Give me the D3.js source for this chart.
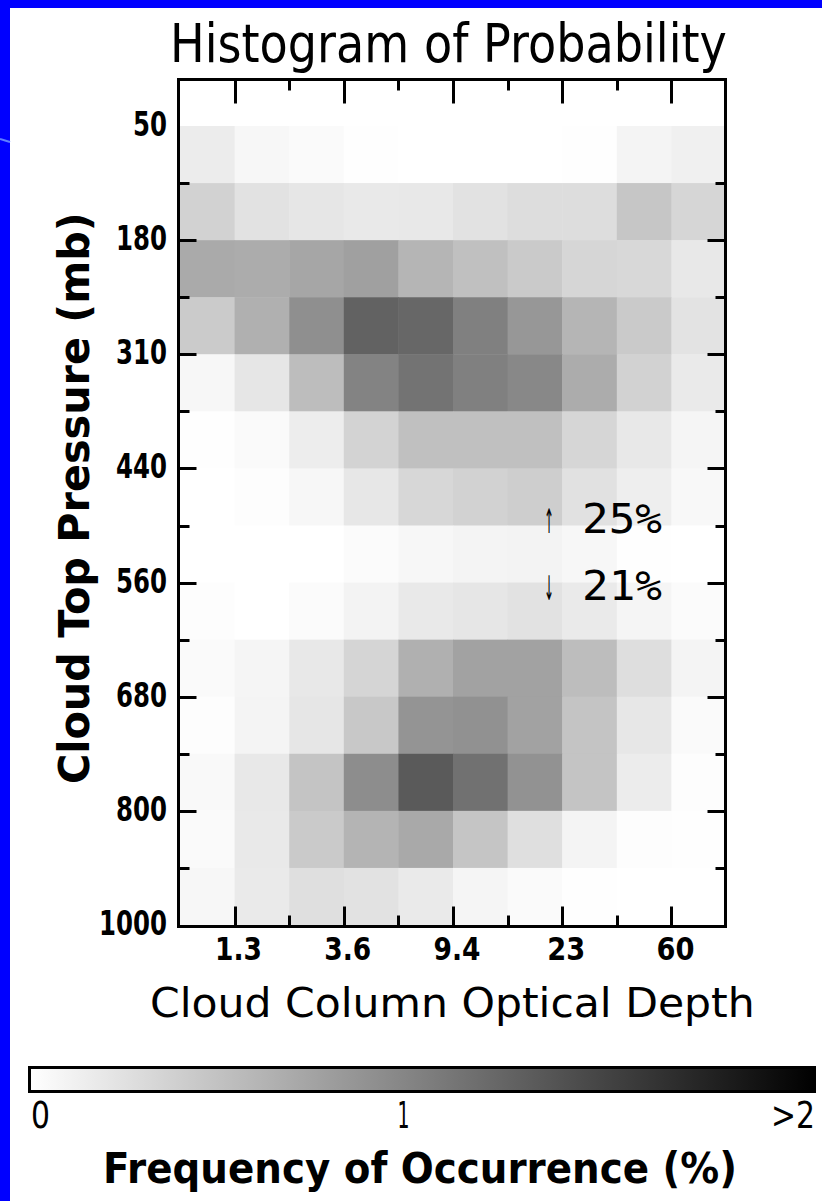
<!DOCTYPE html>
<html><head><meta charset="utf-8">
<script src="https://cdn.jsdelivr.net/npm/d3@7/dist/d3.min.js"></script>
<style>html,body{margin:0;padding:0;background:#fff;overflow:hidden}svg{display:block}</style>
</head><body>
<svg id="chart" width="822" height="1201"></svg>
<script>
// ---------------- data ----------------
const tauBins = d3.range(10);          // optical-depth columns
const pressureRows = d3.range(14);     // pressure rows, top (50 mb) to bottom (1000 mb)
const tauTickLabels = ["1.3", "3.6", "9.4", "23", "60"];          // at column boundaries 1,3,5,7,9
const tauTickPos = [1, 3, 5, 7, 9];
const pressureTickLabels = ["50", "180", "310", "440", "560", "680", "800", "1000"]; // boundaries 0,2,..14
const pressureTickPos = [0, 2, 4, 6, 8, 10, 12, 14];
// frequency of occurrence (%) per cell, row = pressure bin (top->bottom), col = tau bin
const freq = [
  [0.16, 0.07, 0.04, 0.01, 0.00, 0.00, 0.00, 0.01, 0.09, 0.12],
  [0.37, 0.24, 0.21, 0.18, 0.19, 0.24, 0.28, 0.28, 0.47, 0.34],
  [0.70, 0.68, 0.73, 0.78, 0.61, 0.52, 0.44, 0.34, 0.32, 0.19],
  [0.43, 0.65, 0.92, 1.29, 1.25, 1.05, 0.86, 0.61, 0.44, 0.23],
  [0.07, 0.21, 0.54, 1.02, 1.15, 1.05, 0.98, 0.68, 0.37, 0.17],
  [0.01, 0.04, 0.15, 0.36, 0.52, 0.52, 0.52, 0.34, 0.19, 0.08],
  [0.00, 0.02, 0.07, 0.20, 0.33, 0.37, 0.40, 0.25, 0.14, 0.06],
  [0.00, 0.00, 0.00, 0.03, 0.07, 0.09, 0.10, 0.07, 0.01, 0.00],
  [0.02, 0.00, 0.03, 0.10, 0.18, 0.21, 0.24, 0.17, 0.08, 0.03],
  [0.04, 0.08, 0.19, 0.35, 0.65, 0.77, 0.77, 0.54, 0.27, 0.09],
  [0.02, 0.09, 0.21, 0.45, 0.88, 0.91, 0.77, 0.49, 0.20, 0.04],
  [0.05, 0.19, 0.49, 0.94, 1.36, 1.17, 0.90, 0.49, 0.16, 0.02],
  [0.04, 0.18, 0.44, 0.62, 0.71, 0.48, 0.26, 0.09, 0.02, 0.01],
  [0.07, 0.17, 0.26, 0.24, 0.17, 0.08, 0.04, 0.01, 0.00, 0.00]
];
const colorMax = 2.1;
const colorbarLabels = [{v: 0, t: "0", a: "start"}, {v: 1, t: "1", a: "middle"}, {v: 2.1, t: ">2", a: "end"}];
const annotations = [{arrow: "\u2191", text: "25%"}, {arrow: "\u2193", text: "21%"}];

// ---------------- layout ----------------
const svg = d3.select("#chart");
svg.append("rect").attr("width", 822).attr("height", 1201).attr("fill", "#fff");
// slide border
svg.append("rect").attr("x", 0).attr("y", 0).attr("width", 822).attr("height", 8).attr("fill", "#0000ff");
svg.append("rect").attr("x", 0).attr("y", 0).attr("width", 10).attr("height", 1201).attr("fill", "#0000ff");
svg.append("line").attr("x1", 0).attr("y1", 139).attr("x2", 10).attr("y2", 142)
  .attr("stroke", "#5f7fff").attr("stroke-width", 2);

const frame = {left: 178.5, top: 79.5, right: 725.5, bottom: 926.5};
const x = d3.scaleLinear().domain([0, 10]).range([180, 726]);
const y = d3.scaleLinear().domain([0, 14]).range([126, 925]);
const color = d3.scaleLinear().domain([0, colorMax]).range(["#ffffff", "#000000"]).clamp(true);

const FONT = "'DejaVu Sans', 'Liberation Sans', sans-serif";
const MONO = "'DejaVu Sans Mono', 'Liberation Mono', monospace";

// text drawn at natural size and horizontally scaled to the wanted width
function txt(g, s, opts) {
  const t = g.append("text").text(s)
    .attr("x", 0).attr("y", 0)
    .attr("font-family", opts.family || FONT)
    .attr("font-size", opts.size)
    .attr("font-weight", opts.weight || "normal")
    .attr("fill", "#000")
    .attr("text-anchor", "start");
  const w0 = t.node().getComputedTextLength() || 1;
  const sx = opts.len ? opts.len / w0 : 1;
  const rot = opts.rotate ? ` rotate(${opts.rotate})` : "";
  t.attr("transform", `translate(${opts.x},${opts.y})${rot} scale(${sx},1)`);
  return t;
}

// cells
const cells = [];
pressureRows.forEach(r => tauBins.forEach(c => cells.push({r, c, v: freq[r][c]})));
svg.append("g").selectAll("rect").data(cells).join("rect")
  .attr("x", d => x(d.c)).attr("y", d => y(d.r))
  .attr("width", d => x(d.c + 1) - x(d.c) + 0.5)
  .attr("height", d => y(d.r + 1) - y(d.r) + 0.5)
  .attr("fill", d => color(d.v));

// frame
svg.append("rect").attr("x", frame.left).attr("y", frame.top)
  .attr("width", frame.right - frame.left).attr("height", frame.bottom - frame.top)
  .attr("fill", "none").attr("stroke", "#000").attr("stroke-width", 3);

// ticks
const tk = svg.append("g").attr("stroke", "#000").attr("stroke-width", 3);
d3.range(1, 10).forEach(i => {
  const major = tauTickPos.includes(i);
  const xx = Math.round(x(i)) + 0.5;
  tk.append("line").attr("x1", xx).attr("x2", xx).attr("y1", frame.top).attr("y2", frame.top + (major ? 24 : 11));
  tk.append("line").attr("x1", xx).attr("x2", xx).attr("y1", frame.bottom).attr("y2", frame.bottom - (major ? 20 : 11));
});
d3.range(1, 14).forEach(i => {
  const major = pressureTickPos.includes(i);
  const yy = Math.round(y(i)) + 0.5;
  tk.append("line").attr("y1", yy).attr("y2", yy).attr("x1", frame.left).attr("x2", frame.left + (major ? 18 : 11));
  tk.append("line").attr("y1", yy).attr("y2", yy).attr("x1", frame.right).attr("x2", frame.right - (major ? 18 : 10));
});

// y tick labels (right aligned at 167)
pressureTickLabels.forEach((s, i) => {
  const w = s.length * 17;
  txt(svg, s, {x: 167 - w, y: y(pressureTickPos[i]) + 10, size: 33, weight: "bold", len: w});
});
// x tick labels
tauTickLabels.forEach((s, i) => {
  const w = s.replace(".", "").length * 19 + (s.includes(".") ? 9 : 0);
  txt(svg, s, {x: x(tauTickPos[i]) + 4 - w / 2, y: 960, size: 32, weight: "bold", len: w});
});

// titles
txt(svg, "Histogram of Probability", {x: 170, y: 62, size: 53, len: 557});
txt(svg, "Cloud Column Optical Depth", {x: 150, y: 1017, size: 41, len: 605});
txt(svg, "Cloud Top Pressure (mb)", {x: 89, y: 784, rotate: -90, size: 43, weight: "bold", len: 572});

// annotations
annotations.forEach((a, i) => {
  const base = i === 0 ? 533 : 600;
  txt(svg, a.arrow, {x: 544, y: base, size: 34, len: 10});
  txt(svg, a.text, {x: 582, y: base, size: 40, family: MONO, len: 80});
});

// colorbar
const cbx = d3.scaleLinear().domain([0, colorMax]).range([31, 813]);
const defs = svg.append("defs");
const grad = defs.append("linearGradient").attr("id", "cbgrad").attr("x1", "0%").attr("x2", "100%");
d3.range(0, 1.0001, 0.1).forEach(f => grad.append("stop").attr("offset", (f * 100) + "%").attr("stop-color", color(f * colorMax)));
svg.append("rect").attr("x", cbx(0) - 1.5).attr("y", 1067.5).attr("width", cbx(colorMax) - cbx(0) + 3).attr("height", 24)
  .attr("fill", "url(#cbgrad)").attr("stroke", "#000").attr("stroke-width", 3);
colorbarLabels.forEach(l => {
  let xx = cbx(l.v);
  if (l.a === "start") xx = 31;
  if (l.a === "middle") xx = cbx(l.v) - 6;
  if (l.a === "end") xx = 815 - 44;
  txt(svg, l.t, {x: xx, y: 1128, size: 38, len: l.t === ">2" ? 44 : (l.t === "1" ? 12 : 19)});
});
txt(svg, "Frequency of Occurrence (%)", {x: 103, y: 1183, size: 42, weight: "bold", len: 634});
</script>
</body></html>
